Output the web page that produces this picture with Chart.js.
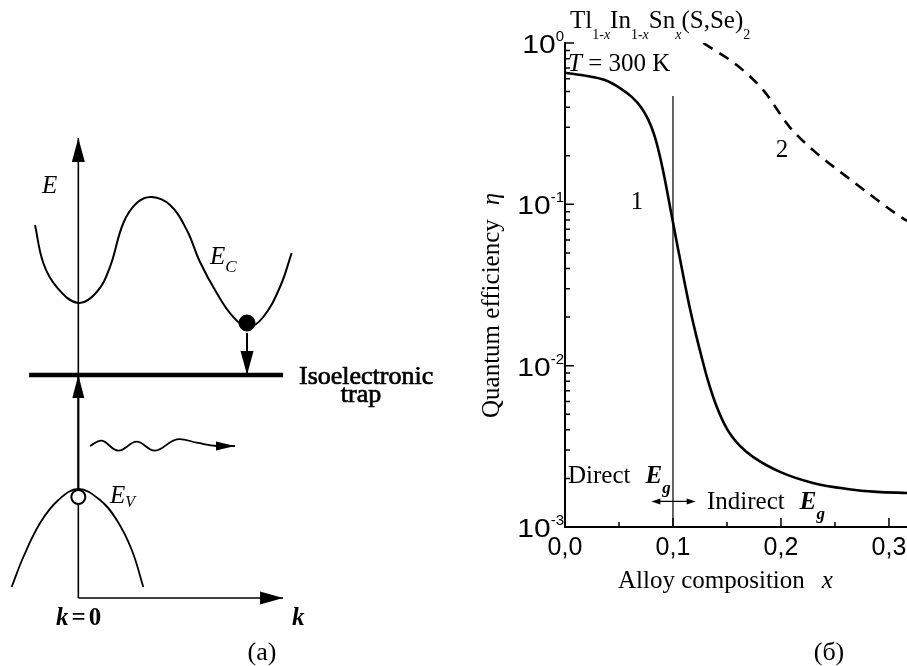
<!DOCTYPE html>
<html>
<head>
<meta charset="utf-8">
<script src="https://cdn.jsdelivr.net/npm/chart.js@4.4.1/dist/chart.umd.min.js"></script>
<style>
  html, body { margin: 0; padding: 0; background: #fff; }
  #wrap { position: relative; width: 907px; height: 666px; overflow: hidden; }
  #bandChart { position: absolute; left: 0; top: 0; }
  #qeChart { position: absolute; left: 470px; top: 0; }
</style>
</head>
<body>
<div id="wrap">
  <canvas id="bandChart" width="470" height="666"></canvas>
  <canvas id="qeChart" width="437" height="666"></canvas>
</div>
<script>
// (a) band diagram, arbitrary units: k along x (k = 0 at the E axis), E along y (trap level at E = 0)
const conductionK = [-0.256, -0.207, -0.128, 0, 0.109, 0.187, 0.266, 0.345, 0.434, 0.542, 0.641, 0.719, 0.818, 0.916, 1.005, 1.093, 1.192, 1.261];
const conductionE = [1.50, 1.12, 0.88, 0.72, 0.83, 1.08, 1.52, 1.72, 1.78, 1.70, 1.45, 1.13, 0.82, 0.58, 0.48, 0.58, 0.88, 1.22];
const valenceK = [-0.394, -0.325, -0.226, -0.118, 0, 0.128, 0.227, 0.316, 0.384];
const valenceE = [-2.12, -1.82, -1.48, -1.25, -1.14, -1.25, -1.45, -1.75, -2.12];
const photonK = [0.069, 0.138, 0.236, 0.345, 0.453, 0.582, 0.700, 0.818, 0.926];
const photonE = [-0.71, -0.657, -0.757, -0.667, -0.757, -0.643, -0.677, -0.71, -0.71];
const energyAxisK = [0, 0];
const energyAxisE = [-2.23, 2.37];
const momentumAxisK = [0, 1.21];
const momentumAxisE = [-2.23, -2.23];
const trapK = [-0.291, 1.21];
const trapE = [0, 0];
const captureK = [0.997, 0.997];
const captureE = [0.42, 0];
const excitationK = [0, 0];
const excitationE = [-1.14, 0];
const electronK = [0.997];
const electronE = [0.52];
const holeK = [0];
const holeE = [-1.22];

// (б) quantum efficiency vs alloy composition
const compositionX1 = [0, 0.0204, 0.037, 0.0509, 0.062, 0.0704, 0.0769, 0.0824, 0.087, 0.0917, 0.0963, 0.1, 0.1046, 0.1102, 0.1157, 0.1213, 0.1269, 0.1324, 0.1398, 0.15, 0.162, 0.1741, 0.1991, 0.2296, 0.2611, 0.2889, 0.3167];
const efficiency1 = [0.654, 0.624, 0.589, 0.5255, 0.462, 0.4004, 0.3373, 0.2721, 0.2104, 0.1514, 0.1044, 0.0773, 0.0533, 0.0342, 0.0226, 0.01558, 0.01105, 0.00807, 0.00573, 0.00406, 0.00318, 0.00272, 0.002196, 0.001876, 0.001722, 0.00165, 0.001626];
const compositionX2 = [0.128, 0.159, 0.1836, 0.2083, 0.23, 0.261, 0.2855, 0.3086, 0.3167];
const efficiency2 = [1.0, 0.73, 0.51, 0.30, 0.216, 0.148, 0.111, 0.0855, 0.079];
const boundaryX = [0.1, 0.1];
const boundaryEta = [0.47, 0.001];
const gapArrowX = [0.08, 0.121];
const gapArrowEta = 0.00144;
const xTicks = [0, 0.1, 0.2, 0.3];
const xTickLabels = ["0,0", "0,1", "0,2", "0,3"];
const xMinorTicks = [0.05, 0.15, 0.25];
const yDecades = [0, -1, -2, -3];

const SERIF = '"Liberation Serif", "Times New Roman", serif';
const SANS = '"Liberation Sans", Arial, sans-serif';

function toPoints(xs, ys) {
    return xs.map((x, i) => ({ x: x, y: ys[i] }));
}

function drawRuns(ctx, runs, x, y) {
    for (const run of runs) {
        ctx.font = run.font;
        ctx.fillText(run.text, x, y + (run.dy || 0));
        x += ctx.measureText(run.text).width + (run.gap || 0);
    }
    return x;
}

function drawArrowHead(ctx, fromX, fromY, tipX, tipY, length, width) {
    const ang = Math.atan2(tipY - fromY, tipX - fromX);
    ctx.save();
    ctx.translate(tipX, tipY);
    ctx.rotate(ang);
    ctx.beginPath();
    ctx.moveTo(0, 0);
    ctx.lineTo(-length, -width / 2);
    ctx.lineTo(-length, width / 2);
    ctx.closePath();
    ctx.fill();
    ctx.restore();
}

function lineSet(xs, ys, width, extra) {
    return Object.assign({
        data: toPoints(xs, ys),
        showLine: true,
        borderColor: "#000",
        borderWidth: width,
        pointRadius: 0,
        tension: 0.4,
        order: 2
    }, extra || {});
}

// ---------- (a) ----------
const bandArrows = {
    id: "bandArrows",
    afterDatasetsDraw(chart) {
        const ctx = chart.ctx;
        ctx.save();
        ctx.fillStyle = "#000";
        chart.data.datasets.forEach((ds, i) => {
            if (!ds.arrow) return;
            const pts = chart.getDatasetMeta(i).data;
            const a = pts[pts.length - 2], b = pts[pts.length - 1];
            drawArrowHead(ctx, a.x, a.y, b.x, b.y, ds.arrow[0], ds.arrow[1]);
        });
        ctx.restore();
    },
    afterDraw(chart) {
        const ctx = chart.ctx;
        ctx.save();
        ctx.fillStyle = "#000";
        ctx.textBaseline = "alphabetic";
        ctx.textAlign = "left";

        drawRuns(ctx, [{ text: "E", font: "italic 25px " + SERIF }], 42, 193);
        drawRuns(ctx, [
            { text: "E", font: "italic 25px " + SERIF },
            { text: "C", font: "italic 17px " + SERIF, dy: 8 }
        ], 210, 264);
        drawRuns(ctx, [
            { text: "E", font: "italic 25px " + SERIF },
            { text: "V", font: "italic 16px " + SERIF, dy: 4 }
        ], 110, 503);

        ctx.font = "26px " + SERIF;
        ctx.lineWidth = 0.7;
        ctx.strokeStyle = "#000";
        ctx.fillText("Isoelectronic", 299, 384);
        ctx.strokeText("Isoelectronic", 299, 384);
        ctx.textAlign = "center";
        ctx.fillText("trap", 361, 402);
        ctx.strokeText("trap", 361, 402);

        ctx.textAlign = "left";
        drawRuns(ctx, [
            { text: "k", font: "bold italic 25px " + SERIF, gap: 3 },
            { text: "=", font: "bold 25px " + SERIF, gap: 3 },
            { text: "0", font: "bold 25px " + SERIF }
        ], 56, 625);
        drawRuns(ctx, [{ text: "k", font: "bold italic 25px " + SERIF }], 292, 625);

        ctx.textAlign = "center";
        ctx.font = "26px " + SERIF;
        ctx.fillText("(a)", 262, 660);
        ctx.restore();
    }
};

new Chart(document.getElementById("bandChart"), {
    type: "scatter",
    data: {
        datasets: [
            { data: toPoints(electronK, electronE), pointRadius: 8, pointBackgroundColor: "#000", pointBorderColor: "#000", order: 0 },
            { data: toPoints(holeK, holeE), pointRadius: 7, pointBackgroundColor: "#fff", pointBorderColor: "#000", pointBorderWidth: 2, order: 0 },
            lineSet(conductionK, conductionE, 2),
            lineSet(valenceK, valenceE, 1.8),
            lineSet(photonK, photonE, 1.8, { arrow: [19, 9] }),
            lineSet(energyAxisK, energyAxisE, 1.6, { tension: 0, arrow: [24, 13] }),
            lineSet(momentumAxisK, momentumAxisE, 1.6, { tension: 0, arrow: [23, 13] }),
            lineSet(trapK, trapE, 4.5, { tension: 0 }),
            lineSet(captureK, captureE, 2, { tension: 0, arrow: [24, 13] }),
            lineSet(excitationK, excitationE, 2, { tension: 0, arrow: [23, 12] })
        ]
    },
    options: {
        responsive: false,
        animation: false,
        layout: { padding: 0, autoPadding: false },
        plugins: { legend: { display: false }, tooltip: { enabled: false } },
        scales: {
            x: { type: "linear", min: -0.463, max: 2.315, display: false },
            y: { type: "linear", min: -2.91, max: 3.75, display: false }
        }
    },
    plugins: [bandArrows]
});

// ---------- (б) ----------
const qeDecor = {
    id: "qeDecor",
    afterDraw(chart) {
        const ctx = chart.ctx;
        const xs = chart.scales.x, ys = chart.scales.y;
        const area = chart.chartArea;
        ctx.save();
        ctx.strokeStyle = "#000";
        ctx.fillStyle = "#000";

        // inward tick marks
        ctx.lineWidth = 1.5;
        ctx.beginPath();
        for (const d of yDecades) {
            const y = ys.getPixelForValue(Math.pow(10, d));
            ctx.moveTo(area.left, y);
            ctx.lineTo(area.left + 9, y);
            if (d === 0) continue;
            for (let m = 2; m <= 9; m++) {
                const ym = ys.getPixelForValue(m * Math.pow(10, d));
                ctx.moveTo(area.left, ym);
                ctx.lineTo(area.left + 5, ym);
            }
        }
        for (const v of xTicks) {
            const x = xs.getPixelForValue(v);
            ctx.moveTo(x, area.bottom);
            ctx.lineTo(x, area.bottom - 9);
        }
        for (const v of xMinorTicks) {
            const x = xs.getPixelForValue(v);
            ctx.moveTo(x, area.bottom);
            ctx.lineTo(x, area.bottom - 5);
        }
        ctx.stroke();

        // tick labels
        ctx.textBaseline = "alphabetic";
        xTicks.forEach((v, i) => {
            ctx.font = "25px " + SANS;
            ctx.textAlign = "center";
            ctx.fillText(xTickLabels[i], xs.getPixelForValue(v), 555);
        });
        ctx.textAlign = "right";
        for (const d of yDecades) {
            const y = ys.getPixelForValue(Math.pow(10, d));
            const sup = d === 0 ? "0" : "-" + Math.abs(d);
            ctx.font = "15px " + SANS;
            const w = ctx.measureText(sup).width;
            ctx.fillText(sup, 94, y - 2);
            ctx.save();
            ctx.translate(94 - w, y + 10);
            ctx.scale(1.2, 1);
            ctx.font = "25px " + SANS;
            ctx.fillText("10", 0, 0);
            ctx.restore();
        }

        // labels
        ctx.textAlign = "left";
        const sub = 11;
        drawRuns(ctx, [
            { text: "Tl", font: "25px " + SERIF },
            { text: "1-", font: "14px " + SERIF, dy: sub },
            { text: "x", font: "italic 14px " + SERIF, dy: sub },
            { text: "In", font: "25px " + SERIF },
            { text: "1-", font: "14px " + SERIF, dy: sub },
            { text: "x", font: "italic 14px " + SERIF, dy: sub },
            { text: "Sn", font: "25px " + SERIF },
            { text: "x", font: "italic 14px " + SERIF, dy: sub },
            { text: "(S,Se)", font: "25px " + SERIF },
            { text: "2", font: "14px " + SERIF, dy: sub }
        ], 100, 28);
        drawRuns(ctx, [
            { text: "T", font: "italic 25px " + SERIF },
            { text: " = 300 K", font: "25px " + SERIF }
        ], 98, 71);

        ctx.font = "25px " + SERIF;
        ctx.textAlign = "center";
        ctx.fillText("1", 167, 209);
        ctx.fillText("2", 312, 157);
        ctx.textAlign = "left";

        drawRuns(ctx, [
            { text: "Direct", font: "25px " + SERIF, gap: 15 },
            { text: "E", font: "bold italic 25px " + SERIF },
            { text: "g", font: "bold italic 17px " + SERIF, dy: 10 }
        ], 98, 483);
        drawRuns(ctx, [
            { text: "Indirect", font: "25px " + SERIF, gap: 15 },
            { text: "E", font: "bold italic 25px " + SERIF },
            { text: "g", font: "bold italic 17px " + SERIF, dy: 10 }
        ], 237, 509);

        // direct / indirect double arrow
        const ay = ys.getPixelForValue(gapArrowEta);
        const ax0 = xs.getPixelForValue(gapArrowX[0]);
        const ax1 = xs.getPixelForValue(gapArrowX[1]);
        ctx.lineWidth = 1.3;
        ctx.beginPath();
        ctx.moveTo(ax0 + 4, ay);
        ctx.lineTo(ax1 - 4, ay);
        ctx.stroke();
        drawArrowHead(ctx, ax1 - 10, ay, ax1, ay, 9, 6);
        drawArrowHead(ctx, ax0 + 10, ay, ax0, ay, 9, 6);

        // axis titles
        drawRuns(ctx, [
            { text: "Alloy composition", font: "25px " + SERIF, gap: 17 },
            { text: "x", font: "italic 25px " + SERIF }
        ], 148, 588);

        ctx.save();
        ctx.translate(29, 418);
        ctx.rotate(-Math.PI / 2);
        drawRuns(ctx, [
            { text: "Quantum efficiency", font: "25px " + SERIF, gap: 14 },
            { text: "\u03B7", font: "italic 25px " + SERIF }
        ], 0, 0);
        ctx.restore();

        ctx.textAlign = "center";
        ctx.font = "26px " + SERIF;
        ctx.fillText("(\u0431)", 359, 660);
        ctx.restore();
    }
};

new Chart(document.getElementById("qeChart"), {
    type: "scatter",
    data: {
        datasets: [
            lineSet(compositionX1, efficiency1, 2.6, { cubicInterpolationMode: "monotone" }),
            lineSet(compositionX2, efficiency2, 2.6, { cubicInterpolationMode: "monotone", borderDash: [11, 8] }),
            lineSet(boundaryX, boundaryEta, 1.2, { tension: 0 })
        ]
    },
    options: {
        responsive: false,
        animation: false,
        layout: { padding: { left: 95, right: 0, top: 43, bottom: 139 }, autoPadding: false },
        plugins: { legend: { display: false }, tooltip: { enabled: false } },
        scales: {
            x: {
                type: "linear", min: 0, max: 0.3167,
                grid: { display: false, drawTicks: false },
                ticks: { display: false },
                border: { display: true, color: "#000", width: 2 }
            },
            y: {
                type: "logarithmic", min: 0.001, max: 1,
                grid: { display: false, drawTicks: false },
                ticks: { display: false },
                border: { display: true, color: "#000", width: 2 }
            }
        }
    },
    plugins: [qeDecor]
});
</script>
</body>
</html>
